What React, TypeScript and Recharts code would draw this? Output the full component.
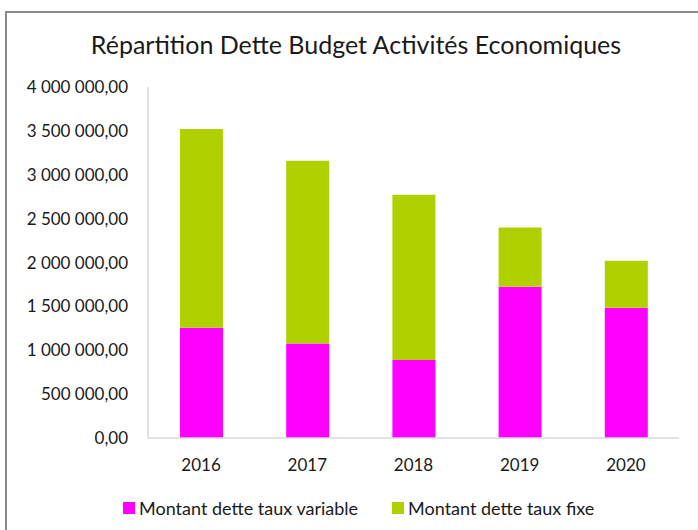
import { Bar, BarChart, XAxis, YAxis } from "recharts";

const years = ["2016", "2017", "2018", "2019", "2020"];
const tauxVariable = [1255000, 1077000, 889000, 1723000, 1483000];
const tauxFixe = [2267000, 2083000, 1882000, 675000, 538000];
const yTicks = [0, 500000, 1000000, 1500000, 2000000, 2500000, 3000000, 3500000, 4000000];

const MAGENTA = "#ff00ff";
const GREEN = "#b0d000";
const FONT = "Lato, 'Open Sans', sans-serif";
const TEXT = "#1a1a1a";

const data = years.map((year, i) => ({
  year,
  variable: tauxVariable[i],
  fixe: tauxFixe[i],
}));

// 4000000 -> "4 000 000,00"
const formatFr = (v: number) => {
  const s = Math.round(v).toString().replace(/\B(?=(\d{3})+(?!\d))/g, " ");
  return s + ",00";
};

const legendItems = [
  { label: "Montant dette taux variable", color: MAGENTA },
  { label: "Montant dette taux fixe", color: GREEN },
];

export default function App() {
  return (
    <div style={{ position: "absolute", left: 0, top: 0, width: 698, height: 530, overflow: "hidden", background: "#fff" }}>
      <div
        style={{
          position: "absolute",
          left: 5,
          top: 11,
          width: 760,
          height: 600,
          border: "2px solid #8a8a8a",
        }}
      />
      <BarChart
        width={698}
        height={530}
        data={data}
        margin={{ top: 87, right: 19, bottom: 62, left: 0 }}
        style={{ position: "absolute", left: 0, top: 0 }}
      >
        <text x={356} y={54} textAnchor="middle" fontFamily={FONT} fontSize={25} fill={TEXT}>
          Répartition Dette Budget Activités Economiques
        </text>
        <XAxis
          dataKey="year"
          height={30}
          axisLine={{ stroke: "#d9d9d9", strokeWidth: 1.5 }}
          tickLine={false}
          tickSize={0}
          tickMargin={21}
          tick={{ fill: TEXT, fontSize: 17, fontFamily: FONT }}
        />
        <YAxis
          width={148}
          domain={[0, 4000000]}
          ticks={yTicks}
          interval={0}
          tickFormatter={formatFr}
          axisLine={{ stroke: "#d9d9d9", strokeWidth: 1.5 }}
          tickLine={false}
          tickSize={0}
          tickMargin={20}
          tick={{ fill: TEXT, fontSize: 17, fontFamily: FONT }}
        />
        <Bar
          dataKey="variable"
          name="Montant dette taux variable"
          stackId="dette"
          fill={MAGENTA}
          barSize={43}
          isAnimationActive={false}
        />
        <Bar
          dataKey="fixe"
          name="Montant dette taux fixe"
          stackId="dette"
          fill={GREEN}
          barSize={43}
          isAnimationActive={false}
        />
      </BarChart>
      <div
        style={{
          position: "absolute",
          top: 497,
          left: 123,
          display: "flex",
          fontFamily: FONT,
          fontSize: 18,
          color: TEXT,
          lineHeight: "22px",
        }}
      >
        {legendItems.map((item, i) => (
          <div key={item.label} style={{ display: "flex", alignItems: "center", marginRight: i === 0 ? 34 : 0 }}>
            <span style={{ width: 12, height: 12, background: item.color, marginRight: 4, display: "inline-block" }} />
            <span>{item.label}</span>
          </div>
        ))}
      </div>
    </div>
  );
}
